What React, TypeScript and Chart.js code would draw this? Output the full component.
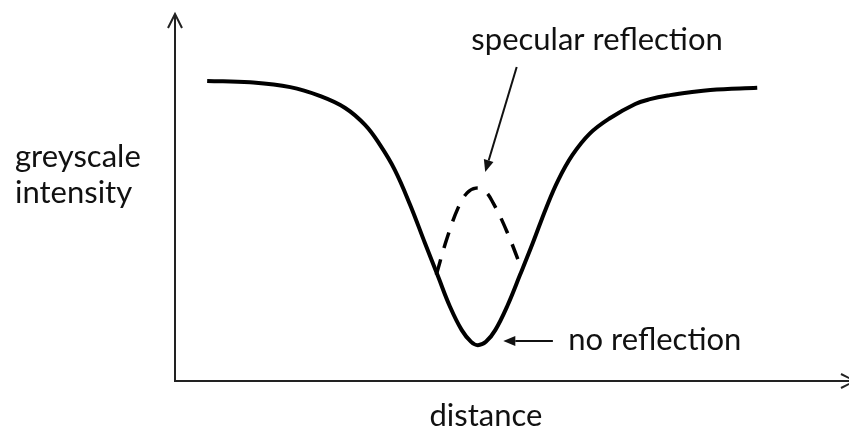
import React, { useEffect, useRef } from "react";
import { Chart, registerables } from "chart.js";
Chart.register(...registerables);

// distance (arbitrary units, 0..100) and greyscale intensity (0..100)
const solidX = [4.8, 11.2, 17.2, 21.6, 25.4, 28.4, 30.6, 32.8, 35.1, 37.3, 39.3, 41.0, 42.8, 44.2, 45.2, 46.4, 47.8, 49.6, 51.5, 53.4, 55.4, 57.2, 59.3, 61.9, 64.9, 68.7, 70.9, 73.9, 76.9, 79.9, 86.9];
const solidY = [82.0, 81.6, 80.3, 77.9, 74.6, 69.9, 64.5, 57.7, 48.1, 37.7, 28.4, 20.5, 13.9, 10.7, 9.8, 10.7, 13.9, 20.5, 29.0, 37.7, 47.3, 54.9, 61.7, 67.6, 71.8, 75.7, 77.0, 78.1, 78.9, 79.5, 80.1];

const dashX = [39.0, 40.6, 42.3, 43.6, 44.9, 46.2, 47.5, 49.5, 51.8];
const dashY = [29.0, 39.0, 47.5, 51.4, 52.7, 52.0, 48.6, 41.0, 30.3];

const xAxisTitle = "distance";
const yAxisTitle = ["greyscale", "intensity"];
const specularText = "specular reflection";
const noReflText = "no reflection";
// annotation anchors in data units
const specularTextAt = [63.0, 90.4];
const specularArrowFromTo = [51.0, 85.8, 46.3, 57.1];
const noReflTextAt = [58.7, 8.5];
const noReflArrowFromTo = [56.4, 10.9, 49.0, 10.9];
const xAxisTitleAt = 46.4;

const FONT = '31px Lato, "Open Sans", sans-serif';
const INK = "#111";

function chevron(ctx: CanvasRenderingContext2D, tx: number, ty: number, dx: number, dy: number) {
  const len = 14, half = 7;
  const bx = tx - dx * len, by = ty - dy * len;
  const px = -dy, py = dx;
  ctx.beginPath();
  ctx.moveTo(bx + px * half, by + py * half);
  ctx.lineTo(tx, ty);
  ctx.lineTo(bx - px * half, by - py * half);
  ctx.stroke();
}

function filledArrow(ctx: CanvasRenderingContext2D, x1: number, y1: number, x2: number, y2: number) {
  const ang = Math.atan2(y2 - y1, x2 - x1);
  const hl = 12, hw = 5;
  const bx = x2 - Math.cos(ang) * hl, by = y2 - Math.sin(ang) * hl;
  ctx.beginPath();
  ctx.moveTo(x1, y1);
  ctx.lineTo(bx, by);
  ctx.stroke();
  ctx.beginPath();
  ctx.moveTo(x2, y2);
  ctx.lineTo(bx + Math.sin(ang) * hw, by - Math.cos(ang) * hw);
  ctx.lineTo(bx - Math.sin(ang) * hw, by + Math.cos(ang) * hw);
  ctx.closePath();
  ctx.fill();
}

const decor = {
  id: "decor",
  afterDraw(chart: any) {
    const { ctx, chartArea: ca, scales } = chart;
    const xs = scales.x, ys = scales.y;
    const X = (v: number) => xs.getPixelForValue(v);
    const Y = (v: number) => ys.getPixelForValue(v);
    ctx.save();
    // axes
    ctx.strokeStyle = "#222";
    ctx.lineWidth = 2;
    ctx.beginPath();
    ctx.moveTo(ca.left, ca.top);
    ctx.lineTo(ca.left, ca.bottom);
    ctx.lineTo(chart.width + 6, ca.bottom);
    ctx.stroke();
    chevron(ctx, ca.left, ca.top - 1, 0, -1);
    chevron(ctx, chart.width + 6, ca.bottom, 1, 0);

    // annotation arrows
    ctx.strokeStyle = INK;
    ctx.fillStyle = INK;
    ctx.lineWidth = 2;
    const [a1, b1, a2, b2] = specularArrowFromTo;
    filledArrow(ctx, X(a1), Y(b1), X(a2), Y(b2));
    const [c1, d1, c2, d2] = noReflArrowFromTo;
    filledArrow(ctx, X(c1), Y(d1), X(c2), Y(d2));

    // texts
    ctx.font = FONT;
    ctx.textBaseline = "alphabetic";
    ctx.textAlign = "center";
    ctx.fillText(specularText, X(specularTextAt[0]), Y(specularTextAt[1]));
    ctx.fillText(xAxisTitle, X(xAxisTitleAt), ca.bottom + 45);
    ctx.textAlign = "left";
    ctx.fillText(noReflText, X(noReflTextAt[0]), Y(noReflTextAt[1]));
    ctx.fillText(yAxisTitle[0], 15, 167);
    ctx.fillText(yAxisTitle[1], 15, 203);
    ctx.restore();
  },
};

export default function App() {
  const ref = useRef<HTMLCanvasElement>(null);
  useEffect(() => {
    if (!ref.current) return;
    const chart = new Chart(ref.current, {
      type: "line",
      data: {
        datasets: [
          {
            data: solidX.map((x, i) => ({ x, y: solidY[i] })),
            borderColor: "#000",
            borderWidth: 4,
            pointRadius: 0,
            tension: 0.4,
            fill: false,
          },
          {
            data: dashX.map((x, i) => ({ x, y: dashY[i] })),
            borderColor: "#000",
            borderWidth: 3.5,
            borderDash: [16, 12],
            pointRadius: 0,
            tension: 0.4,
            fill: false,
          },
        ],
      },
      options: {
        animation: false,
        responsive: false,
        events: [],
        layout: { padding: { left: 175, right: 4, top: 15, bottom: 48 } },
        scales: {
          x: { type: "linear", min: 0, max: 100, display: false },
          y: { type: "linear", min: 0, max: 100, display: false },
        },
        plugins: { legend: { display: false }, tooltip: { enabled: false } },
      },
      plugins: [decor],
    });
    return () => chart.destroy();
  }, []);
  return (
    <div style={{ position: "absolute", left: 0, top: 0, width: 849, height: 429, background: "#fff" }}>
      <canvas ref={ref} width={849} height={429} style={{ display: "block" }} />
    </div>
  );
}
